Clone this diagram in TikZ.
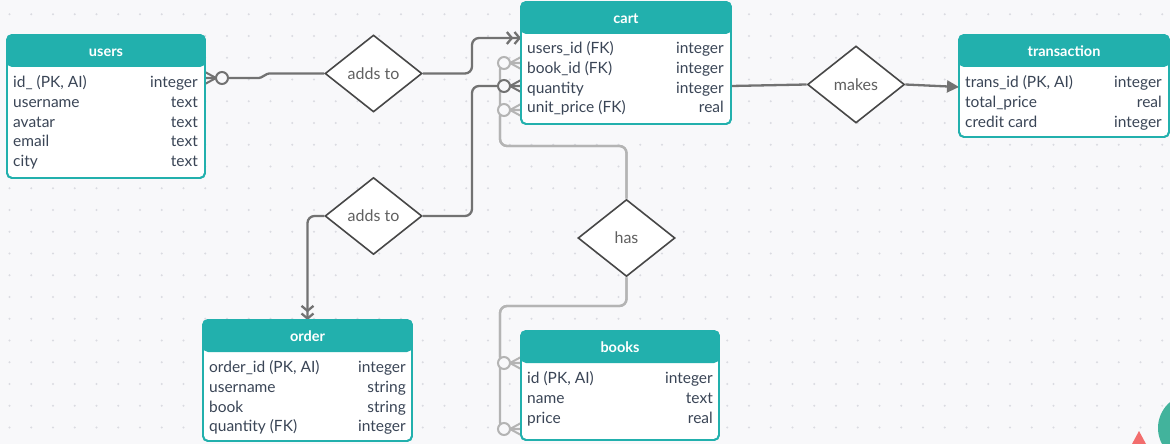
\documentclass[tikz,border=0pt]{standalone}
\usepackage{fontspec}
\setmainfont{Lato}
\usetikzlibrary{shapes.geometric,arrows.meta}

\definecolor{erteal}{HTML}{22B0AD}
\definecolor{ertext}{HTML}{3A4556}
\definecolor{erbg}{HTML}{F8F8FA}
\definecolor{erdot}{HTML}{DADBE1}
\definecolor{erdark}{HTML}{727272}
\definecolor{erlight}{HTML}{B4B4B4}
\definecolor{erdiam}{HTML}{474747}
\definecolor{ergrey}{HTML}{606060}
\definecolor{erhelp}{HTML}{42B39C}
\definecolor{erwarn}{HTML}{F26D6D}

\tikzset{
  crow/.pic = {
    \draw[pic actions, line width=2pt] (0,-6) -- (-11,0) -- (0,6);
    \draw[pic actions, line width=2pt, fill=erbg] (-17,0) circle (6pt);
  }
}

\begin{document}
\begin{tikzpicture}
  [
    x = 1pt, y = -1pt,
    tbl/.style    = {shape=rectangle, rounded corners=5pt, draw=erteal,
                     line width=1.8pt, fill=white, inner sep=0pt,
                     outer sep=0pt, anchor=north west,
                     path picture={\fill[erteal]
                       (path picture bounding box.north west) rectangle
                       ([yshift=-32pt]path picture bounding box.north east);}},
    title/.style  = {text=white, inner sep=0pt, anchor=base,
                     font=\bfseries\fontsize{14.5}{16}\selectfont},
    fld/.style    = {anchor=base west, inner sep=0pt, text=ertext,
                     font=\fontsize{15.5}{17}\selectfont},
    typ/.style    = {fld, anchor=base east},
    rel/.style    = {shape=diamond, draw=erdiam, line width=1.6pt,
                     fill=white, inner sep=0pt, minimum width=97pt,
                     minimum height=77pt, text=ergrey,
                     font=\fontsize{16}{18}\selectfont},
    link/.style   = {draw=erdark, line width=2.3pt, rounded corners=7pt},
    faint/.style  = {link, draw=erlight},
    % two open chevrons, as at cart and order
    twobar/.style = {-{Straight Barb[length=5pt,width=12pt]
                       Straight Barb[length=5pt,width=12pt]}}
  ]
  % canvas
  \useasboundingbox (0,0) rectangle (1170,444);
  \fill[erbg] (0,0) rectangle (1170,444);
  \foreach \i in {0,...,53}
    \foreach \j in {0,...,20}
      \fill[erdot] ({9.5+21.75*\i},{14.25+21.75*\j}) circle (1.1pt);

  % tables
  \node[tbl, minimum width=198pt, minimum height=143pt] (users) at (7,35) {};
  \node[tbl, minimum width=210pt, minimum height=122pt] (cart) at (521,2) {};
  \node[tbl, minimum width=210pt, minimum height=102pt] (transaction) at (959,35) {};
  \node[tbl, minimum width=209pt, minimum height=121pt] (order) at (203,320) {};
  \node[tbl, minimum width=198pt, minimum height=109pt] (books) at (521,331) {};

  % connector ends on the tables
  \coordinate (users-id)  at ([yshift=-43pt]users.north east);
  \coordinate (cart-user) at ([yshift=-36pt]cart.north west);
  \coordinate (cart-book) at ([yshift=-61pt]cart.north west);
  \coordinate (cart-qty)  at ([yshift=-84pt]cart.north west);
  \coordinate (cart-unit) at ([yshift=-108pt]cart.north west);
  \coordinate (cart-out)  at ([yshift=-84pt]cart.north east);
  \coordinate (trans-in)  at ([yshift=-52pt]transaction.north west);
  \coordinate (books-id)  at ([yshift=-32pt]books.north west);
  \coordinate (books-pr)  at ([yshift=-98pt]books.north west);

  % relations
  \node[rel] (addsA) at (373.5,73.5) {adds to};
  \node[rel] (addsB) at (373.5,216) {adds to};
  \node[rel] (makes) at (856,84.5) {makes};
  \node[rel] (has)   at (626.5,238) {has};

  % connectors
  \draw[link] (addsA.west) -- (276,73.5) to[out=180,in=0] (252,78) -- (users-id);
  \draw[link, twobar] (addsA.east) -- (472,73.5) |- (cart-user);
  \draw[link] (addsB.east) -- (472,216) |- (cart-qty);
  \draw[link, twobar] (addsB.west) -| (order.north);
  \draw[faint] (has.north) |- (500,146) |- (cart-book);
  \draw[faint] (has.north) |- (500,146) |- (cart-unit);
  \draw[faint] (has.south) |- (500,306) |- (books-id);
  \draw[faint] (has.south) |- (500,306) |- (books-pr);
  \draw[link] (cart-out) -- (makes.west);
  \draw[link, -{Triangle[length=12pt,width=12pt]}] (makes.east) -- (trans-in);

  \pic[draw=erdark, rotate=180] at (users-id) {crow};
  \pic[draw=erlight] at (cart-book) {crow};
  \pic[draw=erdark]  at (cart-qty)  {crow};
  \pic[draw=erlight] at (cart-unit) {crow};
  \pic[draw=erlight] at (books-id)  {crow};
  \pic[draw=erlight] at (books-pr)  {crow};

  % redraw table outlines over the line ends
  \foreach \t in {users,cart,transaction,order,books}
    \draw[erteal, line width=1.8pt, rounded corners=5pt]
      (\t.north west) rectangle (\t.south east);

  % titles
  \node[title] (users-title) at ([yshift=-21.5pt]users.north) {users};
  \node[title] (cart-title) at ([yshift=-21.5pt]cart.north) {cart};
  \node[title] (transaction-title) at ([yshift=-21.5pt]transaction.north) {transaction};
  \node[title] (order-title) at ([yshift=-21.5pt]order.north) {order};
  \node[title] (books-title) at ([yshift=-21.5pt]books.north) {books};

  % fields
  \foreach \f/\d [count=\k] in {{id\_ (PK, AI)}/integer, username/text,
      avatar/text, email/text, city/text} {
    \node[fld] (users-f\k) at (13,{87.5+19.8*(\k-1)}) {\f};
    \node[typ] (users-d\k) at (198,{87.5+19.8*(\k-1)}) {\d};
  }
  \foreach \f/\d [count=\k] in {{users\_id (FK)}/integer, {book\_id (FK)}/integer,
      quantity/integer, {unit\_price (FK)}/real} {
    \node[fld] (cart-f\k) at (527,{53.5+19.8*(\k-1)}) {\f};
    \node[typ] (cart-d\k) at (724,{53.5+19.8*(\k-1)}) {\d};
  }
  \foreach \f/\d [count=\k] in {{trans\_id (PK, AI)}/integer,
      total\_price/real, credit card/integer} {
    \node[fld] (transaction-f\k) at (965,{87.5+19.8*(\k-1)}) {\f};
    \node[typ] (transaction-d\k) at (1162,{87.5+19.8*(\k-1)}) {\d};
  }
  \foreach \f/\d [count=\k] in {{order\_id (PK, AI)}/integer, username/string,
      book/string, {quantity (FK)}/integer} {
    \node[fld] (order-f\k) at (209,{372.5+19.8*(\k-1)}) {\f};
    \node[typ] (order-d\k) at (406,{372.5+19.8*(\k-1)}) {\d};
  }
  \foreach \f/\d [count=\k] in {{id (PK, AI)}/integer, name/text, price/real} {
    \node[fld] (books-f\k) at (527,{383.5+19.8*(\k-1)}) {\f};
    \node[typ] (books-d\k) at (713,{383.5+19.8*(\k-1)}) {\d};
  }

  % editor widgets in the corner
  \fill[erhelp] (1192,428) circle (34pt);
  \fill[erwarn] (1132,444) -- (1139,431) -- (1146,444) -- cycle;
\end{tikzpicture}
\end{document}
